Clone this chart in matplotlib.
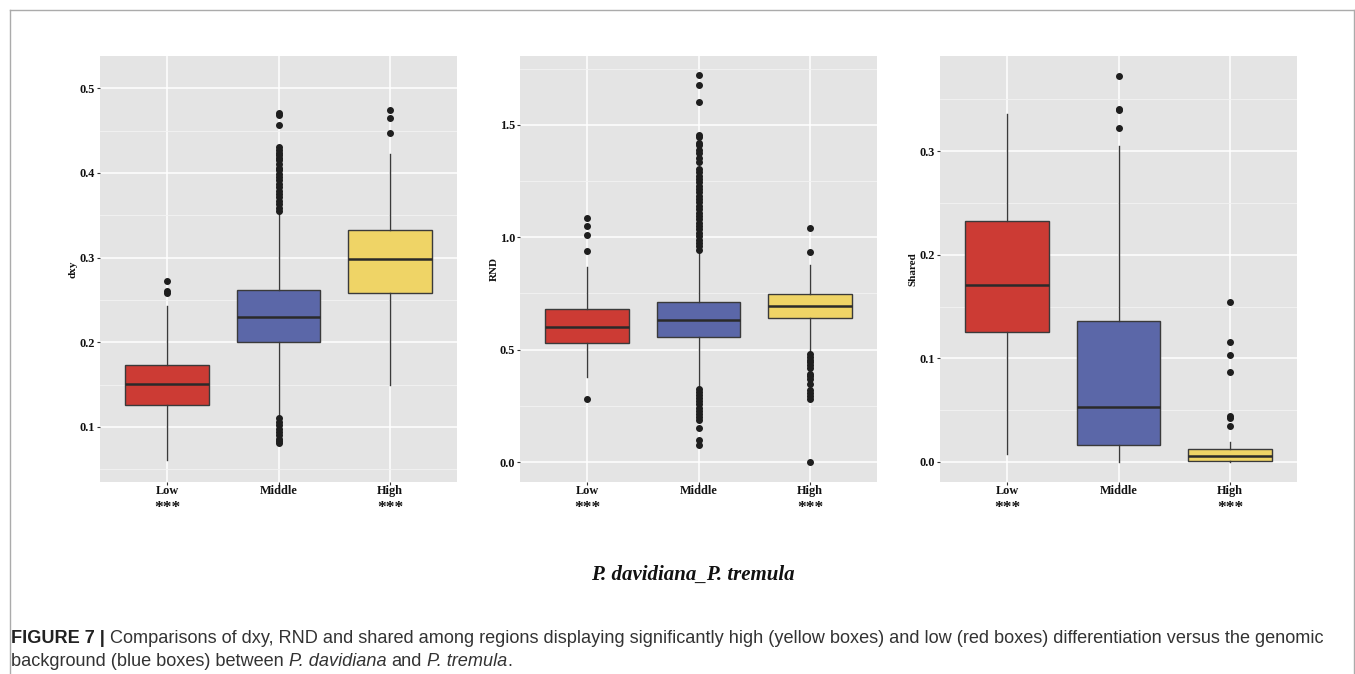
import numpy as np
import matplotlib.pyplot as plt
from matplotlib.ticker import MultipleLocator, FormatStrFormatter
from matplotlib.lines import Line2D
from matplotlib.transforms import blended_transform_factory

groups = ["Low", "Middle", "High"]
stars = ["***", "", "***"]
box_colors = ["#CC3B34", "#5B67A8", "#EFD466"]

# dxy panel
dxy_q1 = [0.1256, 0.2001, 0.2584]
dxy_med = [0.1504, 0.2293, 0.2978]
dxy_q3 = [0.1737, 0.2612, 0.3320]
dxy_lo = [0.0606, 0.1125, 0.1500]
dxy_hi = [0.2430, 0.3520, 0.4224]
dxy_out = [
    [0.272, 0.261, 0.258],
    [0.355, 0.359, 0.363, 0.367, 0.371, 0.375, 0.379, 0.383, 0.387, 0.391, 0.395,
     0.399, 0.403, 0.406, 0.411, 0.415, 0.418, 0.421, 0.424, 0.427, 0.430,
     0.457, 0.468, 0.471,
     0.110, 0.106, 0.102, 0.098, 0.094, 0.090, 0.086, 0.083, 0.081],
    [0.4744, 0.4653, 0.4476],
]

# RND panel
rnd_q1 = [0.530, 0.557, 0.643]
rnd_med = [0.601, 0.633, 0.693]
rnd_q3 = [0.679, 0.710, 0.746]
rnd_lo = [0.379, 0.334, 0.483]
rnd_hi = [0.869, 0.934, 0.876]
rnd_out = [
    [1.084, 1.050, 1.011, 0.939, 0.281],
    [0.945, 0.960, 0.975, 0.990, 1.005, 1.020, 1.035, 1.050, 1.065, 1.080, 1.095,
     1.110, 1.125, 1.140, 1.155, 1.170, 1.185, 1.200, 1.215, 1.230, 1.245, 1.260,
     1.275, 1.290, 1.305, 1.336, 1.351, 1.374, 1.389, 1.411, 1.421, 1.448, 1.455,
     1.601, 1.680, 1.721,
     0.326, 0.312, 0.298, 0.284, 0.270, 0.256, 0.242, 0.228, 0.214, 0.200, 0.188,
     0.151, 0.097, 0.074],
    [1.043, 0.933, 0.480, 0.468, 0.456, 0.444, 0.432, 0.420, 0.393, 0.382, 0.371,
     0.345, 0.319, 0.306, 0.294, 0.282, 0.0],
]

# Shared panel
sh_q1 = [0.1256, 0.0164, 0.0010]
sh_med = [0.1709, 0.0528, 0.0061]
sh_q3 = [0.2324, 0.1362, 0.0123]
sh_lo = [0.0074, 0.0, 0.0]
sh_hi = [0.3354, 0.3050, 0.0193]
sh_out = [
    [],
    [0.3727, 0.3410, 0.3396, 0.3220],
    [0.1548, 0.1162, 0.1030, 0.0866, 0.0445, 0.0425, 0.0348],
]

panels = [
    ("dxy", dxy_q1, dxy_med, dxy_q3, dxy_lo, dxy_hi, dxy_out, (0.035, 0.538), 0.1, "%.1f"),
    ("RND", rnd_q1, rnd_med, rnd_q3, rnd_lo, rnd_hi, rnd_out, (-0.089, 1.807), 0.5, "%.1f"),
    ("Shared", sh_q1, sh_med, sh_q3, sh_lo, sh_hi, sh_out, (-0.0193, 0.3917), 0.1, "%.1f"),
]

W, H = 1355, 674
fig = plt.figure(figsize=(W / 100, H / 100), dpi=100, facecolor="white")
serif = ["Liberation Serif", "DejaVu Serif"]
lefts = [100, 520, 940]
label_x = [-0.064, -0.059, -0.064]

for i, (name, q1, med, q3, lo, hi, out, ylim, step, fmt) in enumerate(panels):
    ax = fig.add_axes([lefts[i] / W, 1 - 482 / H, 357 / W, 426 / H])
    ax.set_facecolor("#E4E4E4")
    for s in ax.spines.values():
        s.set_visible(False)
    stats = []
    for j in range(3):
        stats.append(dict(q1=q1[j], med=med[j], q3=q3[j], whislo=lo[j],
                          whishi=hi[j], fliers=np.array(out[j]), label=groups[j]))
    bp = ax.bxp(stats, positions=[1, 2, 3], widths=0.75, patch_artist=True,
                showcaps=False,
                boxprops=dict(edgecolor="#3A3A3A", linewidth=1.0),
                medianprops=dict(color="#2A2A2A", linewidth=1.8),
                whiskerprops=dict(color="#3A3A3A", linewidth=1.0),
                flierprops=dict(marker="o", markersize=4, markerfacecolor="#1E1E1E",
                                markeredgecolor="#1E1E1E", linestyle="none"))
    for patch, c in zip(bp["boxes"], box_colors):
        patch.set_facecolor(c)
    ax.set_xlim(0.4, 3.6)
    ax.set_ylim(*ylim)
    ax.yaxis.set_major_locator(MultipleLocator(step))
    ax.yaxis.set_minor_locator(MultipleLocator(step / 2))
    ax.yaxis.set_major_formatter(FormatStrFormatter(fmt))
    ax.grid(True, which="major", color="white", linewidth=1.1)
    ax.grid(True, which="minor", axis="y", color="#F3F3F3", linewidth=0.6)
    ax.set_axisbelow(True)
    ax.tick_params(axis="y", which="major", length=2.5, width=0.8, color="#333333",
                   pad=1.0, labelsize=8.8, labelcolor="#111111")
    ax.tick_params(axis="x", which="major", length=2.5, width=0.8, color="#333333",
                   pad=0.0, labelsize=8.8, labelcolor="#111111")
    ax.tick_params(axis="y", which="minor", length=0)
    for lab in ax.get_xticklabels() + ax.get_yticklabels():
        lab.set_fontfamily(serif)
        lab.set_fontweight("bold")
    ax.set_ylabel(name, fontsize=8, fontweight="bold", family=serif, color="#111111")
    ax.yaxis.set_label_coords(label_x[i], 0.5)
    tr = blended_transform_factory(ax.transData, ax.transAxes)
    for j in range(3):
        if stars[j]:
            ax.text(j + 1, -0.071, stars[j], transform=tr, ha="center", va="baseline",
                    fontsize=12.5, fontweight="bold", family=serif, color="#111111")

fig.text(693 / W, 1 - 575 / H, "P. davidiana_P. tremula", ha="center", va="center",
         fontsize=15, style="italic", fontweight="bold", family=serif, color="#111111")

# outer frame (open at the bottom)
fc = "#ABABAB"
fig.add_artist(Line2D([9.5 / W, 9.5 / W], [0, 1 - 9.5 / H], color=fc, lw=1.0))
fig.add_artist(Line2D([9.5 / W, 1353.5 / W], [1 - 9.5 / H, 1 - 9.5 / H], color=fc, lw=1.0))
fig.add_artist(Line2D([1353.5 / W, 1353.5 / W], [0, 1 - 9.5 / H], color=fc, lw=1.0))

# caption with mixed styles
renderer = fig.canvas.get_renderer()
sans = ["Liberation Sans", "DejaVu Sans"]
cap_size = 13.1

sp = fig.text(0, 0, "a a", fontsize=cap_size, family=sans)
sp2 = fig.text(0, 0, "aa", fontsize=cap_size, family=sans)
space_w = sp.get_window_extent(renderer).width - sp2.get_window_extent(renderer).width
sp.remove()
sp2.remove()

line1 = ("Comparisons of dxy, RND and shared among regions displaying significantly high "
         "(yellow boxes) and low (red boxes) differentiation versus the genomic")
t0 = fig.text(11 / W, 1 - 643 / H, "FIGURE 7 |", fontsize=cap_size, va="baseline",
              family=sans, fontweight="bold", color="#222222")
x1 = 11 + t0.get_window_extent(renderer).width + space_w
fig.text(x1 / W, 1 - 643 / H, line1, fontsize=cap_size, va="baseline",
         family=sans, color="#333333")

x = 11
for s, it in [("background (blue boxes) between", False), ("P. davidiana", True),
              ("and", False), ("P. tremula", True)]:
    t = fig.text(x / W, 1 - 666 / H, s, fontsize=cap_size, va="baseline", family=sans,
                 style="italic" if it else "normal", color="#333333")
    x += t.get_window_extent(renderer).width + space_w
fig.text((x - space_w) / W, 1 - 666 / H, ".", fontsize=cap_size, va="baseline",
         family=sans, color="#333333")

fig.savefig("out.png", dpi=100, facecolor="white")
